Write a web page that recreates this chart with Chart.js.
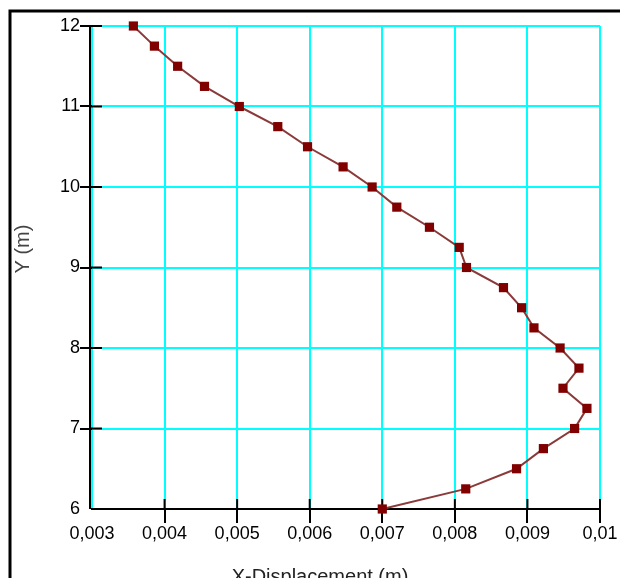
<!DOCTYPE html>
<html>
<head>
<meta charset="utf-8">
<script src="https://cdn.jsdelivr.net/npm/chart.js@4/dist/chart.umd.min.js"></script>
<style>
  html, body { margin: 0; padding: 0; background: #fff; overflow: hidden; }
  #wrap { width: 620px; height: 600px; }
</style>
</head>
<body>
<div id="wrap"><canvas id="grafico"></canvas></div>
<script>
// --- datos ---
const alturas = [12, 11.75, 11.5, 11.25, 11, 10.75, 10.5, 10.25, 10, 9.75, 9.5, 9.25, 9,
                 8.75, 8.5, 8.25, 8, 7.75, 7.5, 7.25, 7, 6.75, 6.5, 6.25, 6];
const desplazX = [0.00357, 0.00386, 0.00418, 0.00455, 0.00503, 0.00556, 0.00597, 0.00646, 0.00686,
                  0.00720, 0.00765, 0.00806, 0.00816, 0.00867, 0.00892, 0.00909, 0.00945,
                  0.00971, 0.00949, 0.00982, 0.00965, 0.00922, 0.00885, 0.00815, 0.00700];
const xTicks = ['0,003', '0,004', '0,005', '0,006', '0,007', '0,008', '0,009', '0,01'];
const yTicks = ['6', '7', '8', '9', '10', '11', '12'];
const tituloX = 'X-Displacement (m)';
const tituloY = 'Y (m)';

const fuenteTicks = { family: 'Liberation Sans, Arial, sans-serif', size: 18 };

// Marco, eje Y, ticks interiores y títulos de los ejes
const decorado = {
  id: 'decorado',
  beforeDraw(chart) {
    const ctx = chart.ctx;
    ctx.save();
    ctx.strokeStyle = '#000';
    ctx.lineWidth = 3;
    ctx.beginPath();
    ctx.moveTo(10, 620);
    ctx.lineTo(10, 11);
    ctx.lineTo(640, 11);
    ctx.stroke();
    ctx.restore();
  },
  beforeDatasetsDraw(chart) {
    const { ctx, chartArea, scales } = chart;
    ctx.save();
    ctx.strokeStyle = '#000';
    ctx.lineWidth = 2;
    // eje Y
    ctx.beginPath();
    ctx.moveTo(chartArea.left - 2, chartArea.top);
    ctx.lineTo(chartArea.left - 2, chartArea.bottom);
    ctx.stroke();
    // ticks hacia dentro
    scales.y.ticks.forEach((t, i) => {
      if (i === 0) return;
      const py = scales.y.getPixelForValue(t.value);
      ctx.beginPath();
      ctx.moveTo(chartArea.left - 2, py);
      ctx.lineTo(chartArea.left + 10, py);
      ctx.stroke();
    });
    scales.x.ticks.forEach((t, i) => {
      if (i === 0) return;
      const px = scales.x.getPixelForValue(t.value);
      ctx.beginPath();
      ctx.moveTo(px, chartArea.bottom);
      ctx.lineTo(px, chartArea.bottom - 10);
      ctx.stroke();
    });
    ctx.restore();
  },
  afterDraw(chart) {
    const ctx = chart.ctx;
    ctx.save();
    ctx.fillStyle = '#222';
    ctx.font = '20px Liberation Sans, Arial, sans-serif';
    ctx.textAlign = 'center';
    ctx.textBaseline = 'middle';
    ctx.fillText(tituloX, 320, 577);
    ctx.translate(23, 249);
    ctx.rotate(-Math.PI / 2);
    ctx.fillStyle = '#444';
    ctx.fillText(tituloY, 0, 0);
    ctx.restore();
  }
};

// el primer tick de cada eje no lleva marca
const colorTick = c => c.index === 0 ? 'rgba(0,0,0,0)' : '#000';

new Chart(document.getElementById('grafico').getContext('2d'), {
  type: 'scatter',
  data: {
    datasets: [{
      label: 'X-Displacement',
      data: desplazX.map((x, i) => ({ x: x, y: alturas[i] })),
      showLine: true,
      clip: false,
      borderColor: '#8b3a3a',
      borderWidth: 2,
      pointStyle: 'rect',
      pointRadius: 6.5,
      pointBackgroundColor: '#800000',
      pointBorderColor: '#800000',
      pointBorderWidth: 0
    }]
  },
  options: {
    responsive: true,
    maintainAspectRatio: false,
    animation: false,
    layout: { padding: { top: 26, right: 20, left: 0, bottom: 0 } },
    plugins: { legend: { display: false }, tooltip: { enabled: false } },
    scales: {
      x: {
        type: 'linear',
        min: 0.003,
        max: 0.01,
        afterFit: s => { s.height = 91; },
        ticks: {
          stepSize: 0.001,
          padding: 0,
          color: '#000',
          font: fuenteTicks,
          maxRotation: 0,
          callback: (v, i) => xTicks[i]
        },
        grid: { color: '#00ffff', lineWidth: 2, tickColor: colorTick, tickLength: 14, tickWidth: 2 },
        border: { display: true, color: '#000', width: 2 }
      },
      y: {
        type: 'linear',
        min: 6,
        max: 12,
        afterFit: s => { s.width = 92; },
        ticks: {
          stepSize: 1,
          padding: 0,
          color: '#000',
          font: fuenteTicks,
          callback: (v, i) => yTicks[i]
        },
        grid: { color: '#00ffff', lineWidth: 2, tickColor: colorTick, tickLength: 12, tickWidth: 2 },
        border: { display: false }
      }
    }
  },
  plugins: [decorado]
});
</script>
</body>
</html>
